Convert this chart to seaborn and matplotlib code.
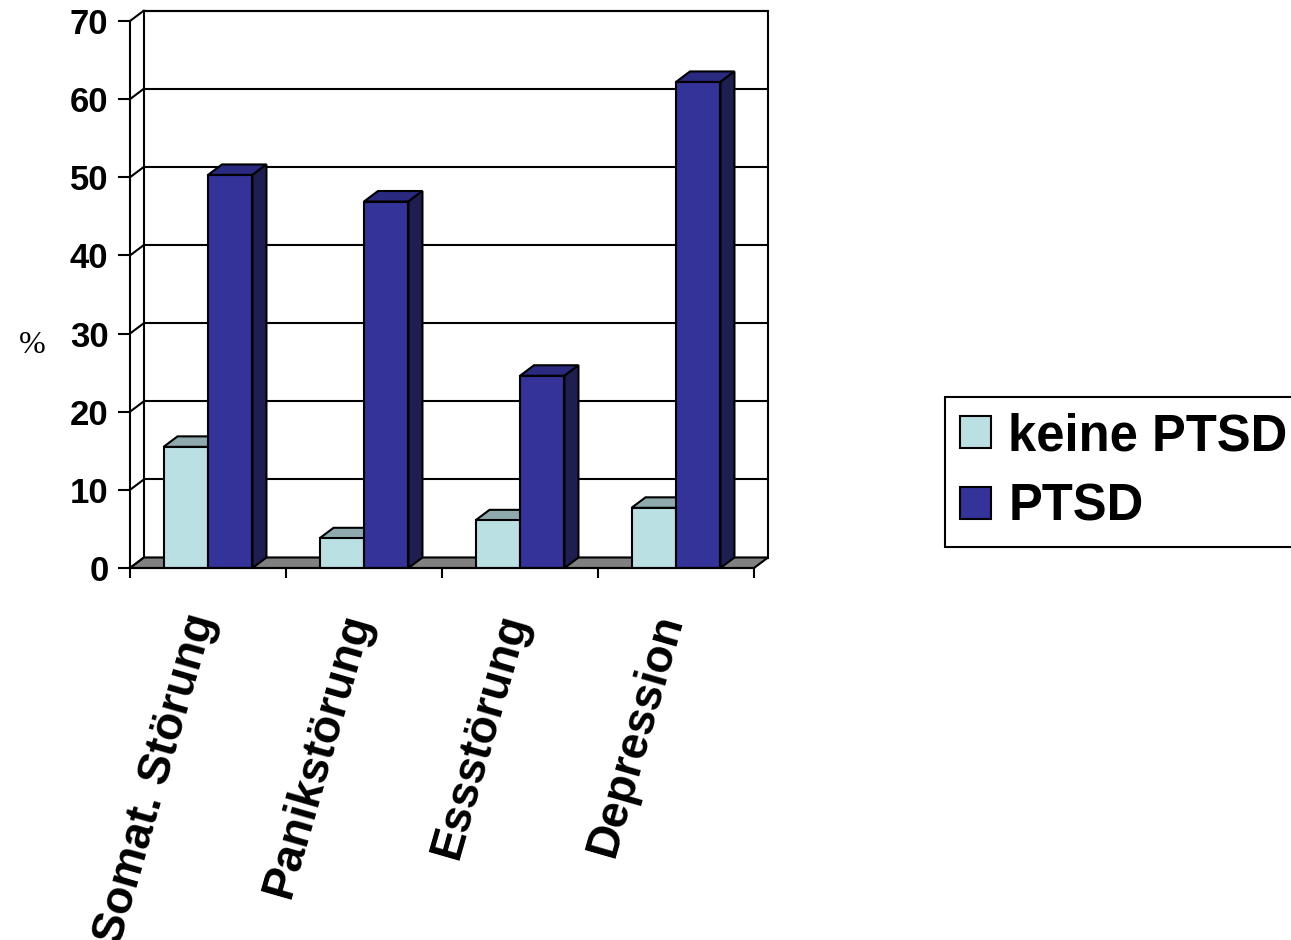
import numpy as np
import pandas as pd
import matplotlib
matplotlib.use("Agg")
import matplotlib.pyplot as plt
import seaborn as sns
from matplotlib.patches import Polygon, Rectangle, Patch
from matplotlib.transforms import ScaledTranslation

# ---------------- data ----------------
categories = ["Somat. Störung", "Panikstörung", "Essstörung", "Depression"]
groups = ["keine PTSD", "PTSD"]
keine_ptsd = [15.5, 3.8, 6.1, 7.7]
ptsd = [50.3, 46.9, 24.6, 62.2]
y_ticks = [0, 10, 20, 30, 40, 50, 60, 70]

df = pd.DataFrame({
    "cat": categories * 2,
    "group": [groups[0]] * 4 + [groups[1]] * 4,
    "val": keine_ptsd + ptsd,
})

front_cols = {"keine PTSD": "#BBE0E3", "PTSD": "#333399"}
top_cols = {"keine PTSD": "#8FAAAD", "PTSD": "#2A2A80"}
side_cols = {"keine PTSD": "#7F9A9C", "PTSD": "#1E1E50"}

sns.set_style("white")
plt.rcParams["font.family"] = ["Liberation Sans", "DejaVu Sans"]
plt.rcParams["text.color"] = "black"
plt.rcParams["xtick.color"] = "black"
plt.rcParams["ytick.color"] = "black"

W, H = 1291, 940
fig = plt.figure(figsize=(W / 100, H / 100), dpi=100)
ax = fig.add_axes([130 / W, 1 - 568 / H, (754 - 130) / W, (568 - 21) / H])

LW = 1.5
# depth offsets (in data units)
px_x = (754 - 130) / 4.0
px_y = (568 - 21) / 70.0
DX = 14 / px_x
DY = 10.5 / px_y
x0, x1 = -0.5, 3.5

# back wall
ax.add_patch(Rectangle((x0 + DX, DY), x1 - x0, 70, facecolor="white",
                       edgecolor="black", lw=LW, clip_on=False, zorder=0.5))
# floor
ax.add_patch(Polygon([(x0, 0), (x1, 0), (x1 + DX, DY), (x0 + DX, DY)],
                     closed=True, facecolor="#808080", edgecolor="black",
                     lw=LW, clip_on=False, zorder=0.8))
for v in y_ticks:
    ax.plot([x0 + DX, x1 + DX], [v + DY, v + DY], color="black", lw=LW,
            clip_on=False, zorder=0.6)
    ax.plot([x0, x0 + DX], [v, v + DY], color="black", lw=LW,
            clip_on=False, zorder=0.6)

sns.barplot(data=df, x="cat", y="val", hue="group", hue_order=groups,
            order=categories, palette=front_cols, width=0.57, dodge=True,
            edgecolor="black", linewidth=LW, saturation=1, legend=False, ax=ax)

for gi, (g, cont) in enumerate(zip(groups, ax.containers)):
    zbase = 2 + gi * 2
    for p in cont.patches:
        p.set_zorder(zbase + 1)
        bx, bw, bh = p.get_x(), p.get_width(), p.get_height()
        top = Polygon([(bx, bh), (bx + bw, bh), (bx + bw + DX, bh + DY), (bx + DX, bh + DY)],
                      closed=True, facecolor=top_cols[g], edgecolor="black",
                      lw=LW, clip_on=False, zorder=zbase)
        side = Polygon([(bx + bw, 0), (bx + bw + DX, DY), (bx + bw + DX, bh + DY), (bx + bw, bh)],
                       closed=True, facecolor=side_cols[g], edgecolor="black",
                       lw=LW, clip_on=False, zorder=zbase)
        ax.add_patch(top)
        ax.add_patch(side)

ax.set_xlim(x0, x1)
ax.set_ylim(0, 70)
ax.set_yticks(y_ticks)
ax.set_xlabel("")
ax.set_ylabel("")
for s in ["top", "right"]:
    ax.spines[s].set_visible(False)
for s in ["left", "bottom"]:
    ax.spines[s].set_linewidth(LW)
    ax.spines[s].set_color("black")
    ax.spines[s].set_zorder(10)

ax.tick_params(axis="y", left=True, direction="out", length=8.5, width=LW, pad=7,
               labelsize=25, colors="black")
for lab in ax.get_yticklabels():
    lab.set_fontweight("bold")

ax.set_xticks(range(len(categories)))
ax.set_xticks(np.arange(-0.5, 4.0, 1.0), minor=True)
ax.tick_params(axis="x", which="both", bottom=True)
ax.tick_params(axis="x", which="minor", direction="out", length=7.5, width=LW,
               color="black")
ax.tick_params(axis="x", which="major", length=0, pad=29, labelsize=33,
               colors="black")
ax.set_xticklabels(categories, rotation=74, ha="right", va="top",
                   fontweight="bold")
for lab in ax.get_xticklabels():
    lab.set_transform(lab.get_transform() + ScaledTranslation(16 / 100, 0, fig.dpi_scale_trans))

fig.text(32 / W, 1 - 346 / H, "%", fontsize=23, family=["Liberation Serif", "DejaVu Serif"],
         ha="center", va="center", color="black")

handles = [Patch(facecolor=front_cols[g], edgecolor="black", linewidth=LW) for g in groups]
leg = fig.legend(handles, groups, loc="upper left",
                 bbox_to_anchor=(945 / W, 1 - 397 / H), borderaxespad=0,
                 prop={"weight": "bold", "size": 36.5, "family": "Liberation Sans"},
                 handlelength=0.6, handleheight=0.6, handletextpad=0.35,
                 labelspacing=0.42, borderpad=0.3, fancybox=False,
                 framealpha=1, edgecolor="black", labelcolor="black")
leg.get_frame().set_linewidth(LW)

fig.savefig("out.png", dpi=100)
